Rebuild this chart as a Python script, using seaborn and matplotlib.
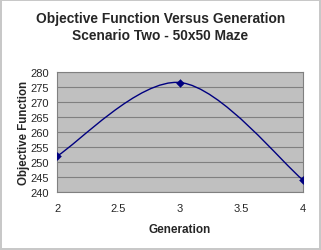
import numpy as np
import pandas as pd
import matplotlib
matplotlib.use("Agg")
import matplotlib.pyplot as plt
from matplotlib.path import Path
from matplotlib.patches import PathPatch
import seaborn as sns

generation = [2, 3, 4]
objective = [252, 276.5, 244]
x_ticks = [2, 2.5, 3, 3.5, 4]
y_ticks = [240, 245, 250, 255, 260, 265, 270, 275, 280]

LINE_COLOR = "#000080"


# Excel-style smoothed line: Catmull-Rom segments as cubic Bezier
def smooth_path(xs, ys):
    pts = np.column_stack([xs, ys]).astype(float)
    n = len(pts)
    verts = [pts[0]]
    codes = [Path.MOVETO]
    for i in range(n - 1):
        p_prev = pts[max(i - 1, 0)]
        p0 = pts[i]
        p1 = pts[i + 1]
        p_next = pts[min(i + 2, n - 1)]
        c1 = p0 + (p1 - p_prev) / 6
        c2 = p1 - (p_next - p0) / 6
        verts += [c1, c2, p1]
        codes += [Path.CURVE4] * 3
    return Path(verts, codes)


df = pd.DataFrame({"generation": generation, "objective": objective})

sns.set_style("white")
plt.rcParams["font.family"] = ["Liberation Sans", "DejaVu Sans"]

fig = plt.figure(figsize=(3.21, 2.51), dpi=100)
fig.patch.set_edgecolor("#c8c8c8")
fig.patch.set_linewidth(1.5)
ax = fig.add_axes([0.178, 0.231, 0.766, 0.478])
ax.set_facecolor("#c0c0c0")

ax.add_patch(PathPatch(smooth_path(df.generation, df.objective),
                       facecolor="none", edgecolor=LINE_COLOR, lw=1.0, zorder=3))
sns.scatterplot(data=df, x="generation", y="objective", marker="D", s=16,
                color=LINE_COLOR, edgecolor=LINE_COLOR, ax=ax, zorder=4)

ax.set_xlim(2, 4)
ax.set_ylim(240, 280)
ax.set_xticks(x_ticks)
ax.set_xticklabels(["2", "2.5", "3", "3.5", "4"])
ax.set_yticks(y_ticks)
ax.yaxis.grid(True, color="#808080", lw=0.8)
ax.set_axisbelow(True)
for s in ax.spines.values():
    s.set_color("#808080")
    s.set_linewidth(0.8)
ax.tick_params(axis="both", which="major", labelsize=8, length=3,
               color="#808080", width=0.8, pad=3, direction="out")
ax.tick_params(axis="x", pad=5)

ax.set_xlabel("Generation", fontsize=8.5, fontweight="bold", labelpad=7)
ax.set_ylabel("Objective Function", fontsize=8.3, fontweight="bold", labelpad=0)
fig.text(0.5, 0.89, "Objective Function Versus Generation\nScenario Two - 50x50 Maze",
         ha="center", va="center", fontsize=9.9, fontweight="bold", linespacing=1.3)

fig.savefig("out.png", dpi=100)
